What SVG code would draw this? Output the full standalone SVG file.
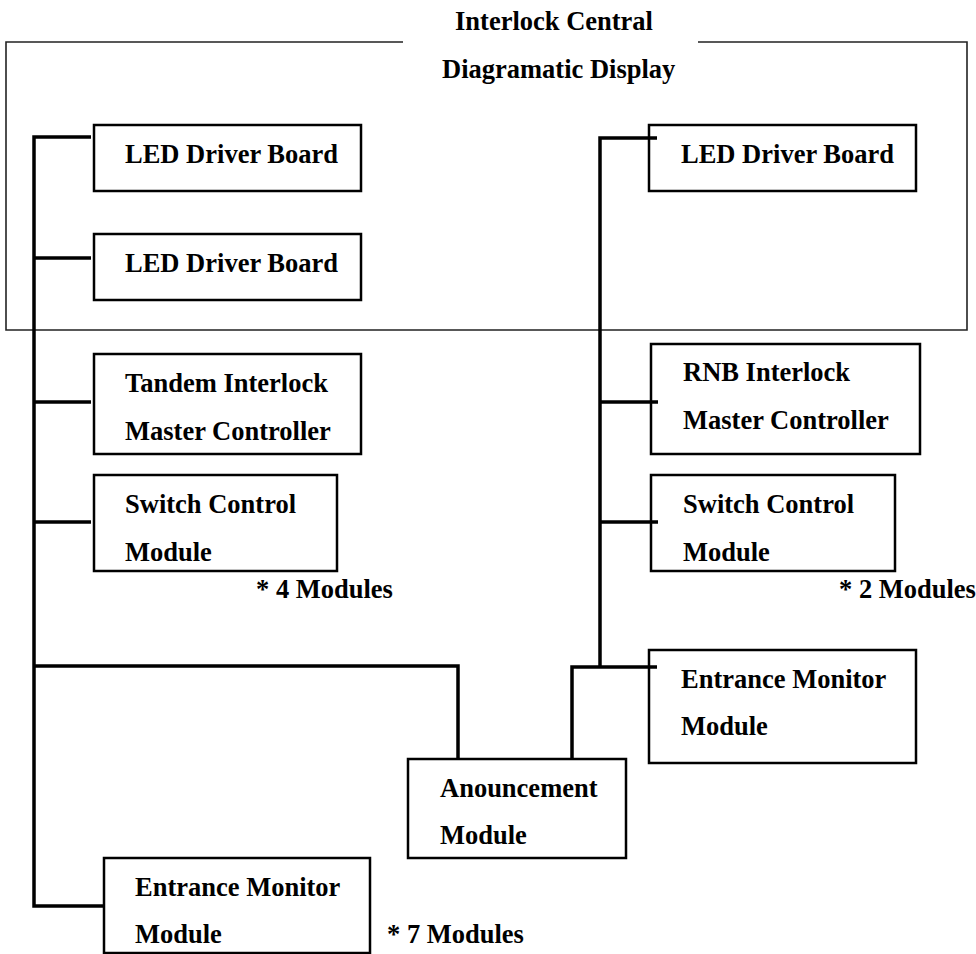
<svg xmlns="http://www.w3.org/2000/svg" width="976" height="954" viewBox="0 0 976 954">
<style>
.box{fill:none;stroke:#000;stroke-width:2.5}
.frame{fill:none;stroke:#222;stroke-width:1.6}
.conn{fill:none;stroke:#000;stroke-width:3.5;stroke-linejoin:miter;stroke-linecap:butt}
</style>
<rect width="976" height="954" fill="#fff"/>
<g font-family="Liberation Serif, Times New Roman, serif" font-weight="bold" font-size="26.5" fill="#000">
<g id="display-frame">
<path class="frame" d="M403,42 H6 V330 H967 V42 H698"/>
<text x="455" y="30">Interlock Central</text>
<text x="442" y="78">Diagramatic Display</text>
</g>
<g id="connectors">
<path class="conn" d="M91,137 H34 V906 H104"/>
<path class="conn" d="M34,258 H91"/>
<path class="conn" d="M34,402 H91"/>
<path class="conn" d="M34,522 H91"/>
<path class="conn" d="M34,666 H458 V759"/>
<path class="conn" d="M657,138 H600 V667"/>
<path class="conn" d="M600,402 H658"/>
<path class="conn" d="M600,522 H658"/>
<path class="conn" d="M572,759 V667 H657"/>
</g>
<g id="led-left-1">
<rect class="box" x="94" y="125" width="267" height="66"/>
<text x="125" y="163">LED Driver Board</text>
</g>
<g id="led-left-2">
<rect class="box" x="94" y="234" width="267" height="66"/>
<text x="125" y="272">LED Driver Board</text>
</g>
<g id="led-right">
<rect class="box" x="649" y="125" width="267" height="66"/>
<text x="681" y="163">LED Driver Board</text>
</g>
<g id="tandem-master">
<rect class="box" x="94" y="354" width="267" height="100"/>
<text x="125" y="392">Tandem Interlock</text>
<text x="125" y="440">Master Controller</text>
</g>
<g id="switch-left">
<rect class="box" x="94" y="475" width="243" height="96"/>
<text x="125" y="513">Switch Control</text>
<text x="125" y="561">Module</text>
<text x="256" y="598">* 4 Modules</text>
</g>
<g id="rnb-master">
<rect class="box" x="651" y="344" width="269" height="110"/>
<text x="683" y="381">RNB Interlock</text>
<text x="683" y="429">Master Controller</text>
</g>
<g id="switch-right">
<rect class="box" x="651" y="475" width="244" height="96"/>
<text x="683" y="513">Switch Control</text>
<text x="683" y="561">Module</text>
<text x="839" y="598">* 2 Modules</text>
</g>
<g id="entrance-right">
<rect class="box" x="649" y="650" width="267" height="113"/>
<text x="681" y="688">Entrance Monitor</text>
<text x="681" y="735">Module</text>
</g>
<g id="announcement">
<rect class="box" x="408" y="759" width="218" height="99"/>
<text x="440" y="797">Anouncement</text>
<text x="440" y="844">Module</text>
</g>
<g id="entrance-left">
<rect class="box" x="104" y="858" width="266" height="95"/>
<text x="135" y="896">Entrance Monitor</text>
<text x="135" y="943">Module</text>
<text x="387" y="943">* 7 Modules</text>
</g>
</g>
</svg>
